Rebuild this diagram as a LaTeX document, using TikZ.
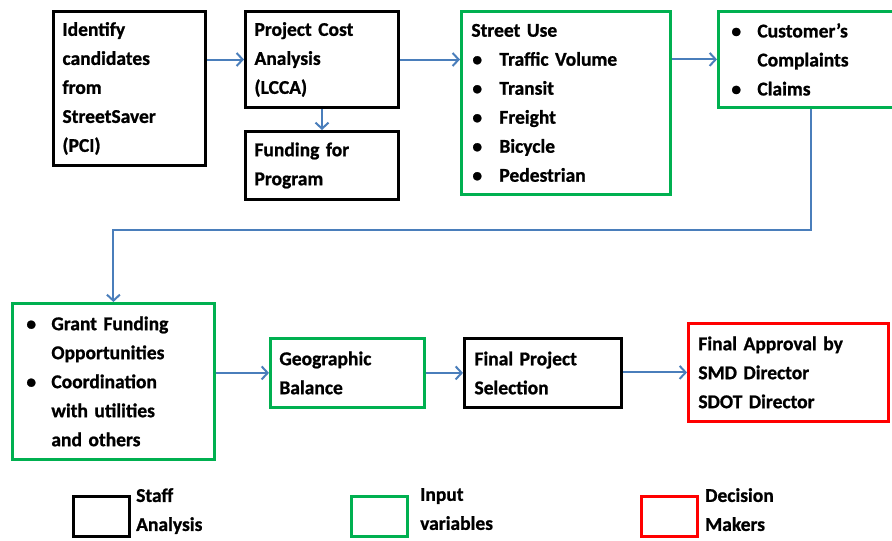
\documentclass[tikz,border=0pt]{standalone}
\usepackage{fontspec}
\setmainfont{Carlito}[BoldFeatures={FakeBold=1}]
\usetikzlibrary{arrows.meta}
\definecolor{ingreen}{HTML}{00B050}
\definecolor{decred}{HTML}{FF0000}
\definecolor{arrblue}{HTML}{4A7EBB}
\newcommand{\bul}[1]{\makebox[#1][l]{\hspace{1pt}•}}
\begin{document}
\begin{tikzpicture}[x=1pt,y=-1pt,
  every node/.style={font=\bfseries\fontsize{19.5}{29}\selectfont},
  boxbase/.style={draw, line width=3pt, anchor=north west, align=left, inner ysep=0pt, inner xsep=9pt},
  staffbox/.style={boxbase, draw=black},
  inputbox/.style={boxbase, draw=ingreen, line width=2.8pt},
  decbox/.style={boxbase, draw=decred, line width=2.8pt},
  arr/.style={draw=arrblue, line width=2pt, -{Straight Barb[length=6pt,width=13pt,line width=2pt]}},
  legsq/.style={draw, line width=3pt, minimum width=56pt, minimum height=40pt, anchor=north west, inner sep=0pt},
  legtxt/.style={anchor=north west, align=left, inner sep=0pt}
]
\clip (0,0) rectangle (892,541);
\fill[white] (0,0) rectangle (892,541);

% top row
\node[staffbox, minimum width=152pt, minimum height=154pt, text width=134pt] (b1) at (52,10)
  {Identify\\candidates\\from\\StreetSaver\\(PCI)};
\node[staffbox, minimum width=153pt, minimum height=96pt, text width=135pt] (b2) at (244,10)
  {Project Cost\\Analysis\\(LCCA)};
\node[staffbox, minimum width=153pt, minimum height=68pt, text width=135pt] (b3) at (244,130)
  {Funding for\\Program};
\node[inputbox, minimum width=209pt, minimum height=183pt, text width=189pt, inner xsep=10pt] (b4) at (460,10)
  {Street Use\\\bul{28pt}Traffic Volume\\\bul{28pt}Transit\\\bul{28pt}Freight\\\bul{28pt}Bicycle\\\bul{28pt}Pedestrian};
\node[inputbox, minimum width=186pt, minimum height=96pt, text width=162pt, inner xsep=12pt] (b5) at (717,10)
  {\bul{27pt}Customer’s\\\hspace*{27pt}Complaints\\\bul{27pt}Claims};

% bottom row
\node[inputbox, minimum width=202pt, minimum height=156pt, text width=176pt, inner xsep=13pt] (b6) at (11,302)
  {\bul{26pt}Grant Funding\\\hspace*{26pt}Opportunities\\\bul{26pt}Coordination\\\hspace*{26pt}with utilities\\\hspace*{26pt}and others};
\node[inputbox, minimum width=154pt, minimum height=69pt, text width=136pt] (b7) at (269,337)
  {Geographic\\Balance};
\node[staffbox, minimum width=155pt, minimum height=69pt, text width=137pt, inner xsep=10pt] (b8) at (463,337)
  {Final Project\\Selection};
\node[decbox, minimum width=196pt, minimum height=98pt, text width=180pt, inner xsep=10pt] (b9) at (687,322)
  {Final Approval by\\SMD Director\\SDOT Director};

% connectors
\coordinate (elbow) at (0,230);
\draw[arr] (b1.east |- b2.west) -- (b2.west);
\draw[arr] (b2.east) -- (b2.east -| b4.west);
\draw[arr] (b4.east |- b5.west) -- (b5.west);
\draw[arr] (b2.south) -- (b3.north);
\draw[arr] (b5.south) |- (b6.north |- elbow) -- (b6.north);
\draw[arr] (b6.east |- b7.west) -- (b7.west);
\draw[arr] (b7.east) -- (b7.east -| b8.west);
\draw[arr] (b8.east |- b9.west) -- (b9.west);

% legend
\node[legsq, draw=black] (l1) at (72,495) {};
\node[legtxt] (t1) at (136,488) {Staff\\Analysis};
\node[legsq, draw=ingreen] (l2) at (350,495) {};
\node[legtxt] (t2) at (420,488) {Input\\variables};
\node[legsq, draw=decred] (l3) at (640,495) {};
\node[legtxt] (t3) at (705,488) {Decision\\Makers};
\end{tikzpicture}
\end{document}
